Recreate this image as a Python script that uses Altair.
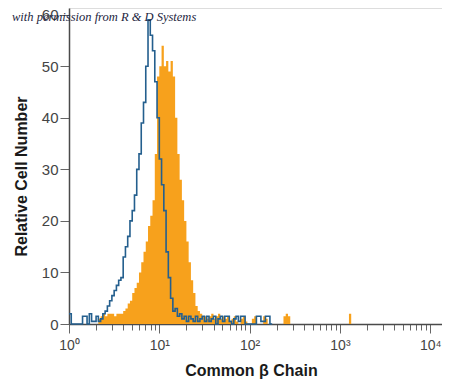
import altair as alt
import pandas as pd

# histogram bins: 40 channels per decade, starting at 10^0
BINS_PER_DECADE = 40

blue_counts = [
    2, 0, 0, 0, 0, 0, 1.5, 1.5, 0, 2,
    0.5, 0.5, 1.5, 0.5, 1, 2, 2.5, 3.5, 4.5, 5.5,
    6.5, 7.5, 8.5, 9, 13, 15, 17, 20, 22, 25,
    30, 33, 39, 43, 50, 59, 56, 53, 47, 40,
    32, 27, 22, 14, 9, 5, 2.5, 3, 1.5, 2,
    1, 1.5, 0.5, 1.5, 1, 0.5, 1.5, 0.5, 1, 1.5,
    0.5, 1.5, 0.5, 1, 1.5, 0, 1, 1.5, 0.5, 1.5,
    1.5, 0.5, 0, 1, 1.5, 0.5, 1.5, 1.5, 0, 0,
    0, 0, 0, 1.5, 1.5, 0.5, 0.5, 1.5, 1.5, 0,
]

orange_counts = [
    0, 0, 0, 0, 0, 0, 0, 0, 0, 0,
    0, 0, 0, 1, 1.5, 2, 1.5, 2, 2, 2,
    1.5, 2, 2, 2, 2.5, 3, 4, 4.5, 6, 7,
    8, 10, 12, 14, 16, 19, 21, 24, 33, 48,
    50, 54, 50, 51, 49, 51, 48, 40, 33, 28,
    24, 20, 16, 12, 8.5, 6, 3.5, 2.5, 2, 1.5,
    1.5, 1, 1.5, 2, 1, 1.5, 2, 1, 1.5, 1,
    1.5, 0.5, 1, 1.5, 0.5, 0, 1, 1.5, 0.5, 0,
    0, 1, 1.5, 0, 0, 0, 1.5, 1, 0, 0,
    0, 0, 0, 0, 0, 1.5, 2, 1.5, 0, 0,
    0, 0, 0, 0, 0, 0, 0, 0, 0, 0,
    0, 0, 0, 0, 0, 0, 0, 0, 0, 0,
    0, 0, 0, 0, 2, 0,
]

x_tick_values = [m * 10 ** d for d in range(4) for m in range(1, 10)] + [10000]
y_tick_values = [0, 10, 20, 30, 40, 50, 60]
x_title = "Common \u03b2 Chain"
y_title = "Relative Cell Number"
watermark = "with permission from R & D Systems"


def hist_frame(counts):
    edges = [10 ** (i / BINS_PER_DECADE) for i in range(len(counts) + 1)]
    return pd.DataFrame({"x": edges, "count": list(counts) + [0]})


blue_df = hist_frame(blue_counts)
orange_df = hist_frame(orange_counts)

FONT = "Liberation Sans, Arial, sans-serif"

x_scale = alt.Scale(type="log", domain=[1, 13500], nice=False)
y_scale = alt.Scale(domain=[0, 61.3], nice=False)

label_expr = (
    "datum.value == 1 ? '10\u2070' : datum.value == 10 ? '10\u00b9' : "
    "datum.value == 100 ? '10\u00b2' : datum.value == 1000 ? '10\u00b3' : "
    "datum.value == 10000 ? '10\u2074' : ''"
)

x_axis = alt.Axis(
    values=x_tick_values,
    labelExpr=label_expr,
    labelOverlap=False,
    labelFlush=False,
    grid=False,
    title=x_title,
    titleFont=FONT,
    titleFontSize=16,
    titleFontWeight="bold",
    titleColor="#1a1a1a",
    titlePadding=10,
    titleX=182,
    labelFont=FONT,
    labelFontSize=14,
    labelColor="#444444",
    labelPadding=5,
    tickSize={"condition": {"test": "indexof([1,10,100,1000,10000], datum.value) >= 0", "value": 9}, "value": 6},
    tickColor="#666666",
    tickWidth=1,
    domainColor="#4a4a4a",
    domainWidth=1.5,
)

y_axis = alt.Axis(
    values=y_tick_values,
    grid=False,
    title=y_title,
    titleFont=FONT,
    titleFontSize=16,
    titleFontWeight="bold",
    titleColor="#1a1a1a",
    titlePadding=12,
    titleY=168,
    labelFont=FONT,
    labelFontSize=15,
    labelColor="#444444",
    labelPadding=2,
    tickSize=9,
    tickColor="#666666",
    tickWidth=1,
    domainColor="#4a4a4a",
    domainWidth=1.5,
)

orange = alt.Chart(orange_df).mark_area(
    interpolate="step-after", color="#F7A11C", opacity=1
).encode(
    x=alt.X("x:Q", scale=x_scale, axis=x_axis),
    y=alt.Y("count:Q", scale=y_scale, axis=y_axis),
)

blue = alt.Chart(blue_df).mark_line(
    interpolate="step-after", color="#245F8E", strokeWidth=1.6
).encode(
    x=alt.X("x:Q", scale=x_scale),
    y=alt.Y("count:Q", scale=y_scale),
)

wm = alt.Chart(pd.DataFrame({"t": [watermark]})).mark_text(
    align="left", baseline="middle", font="Liberation Serif", fontStyle="italic",
    fontSize=12.5, color="#1d2540"
).encode(
    x=alt.value(-57), y=alt.value(9), text="t:N"
)

chart = alt.layer(orange, blue, wm).properties(
    width=373,
    height=316,
    autosize=alt.AutoSizeParams(type="none"),
    padding={"left": 61, "top": 0, "right": 0, "bottom": 57},
).configure_view(stroke=None).configure(background="white")

chart.save("out.html", embed_options={"renderer": "svg", "actions": False})
